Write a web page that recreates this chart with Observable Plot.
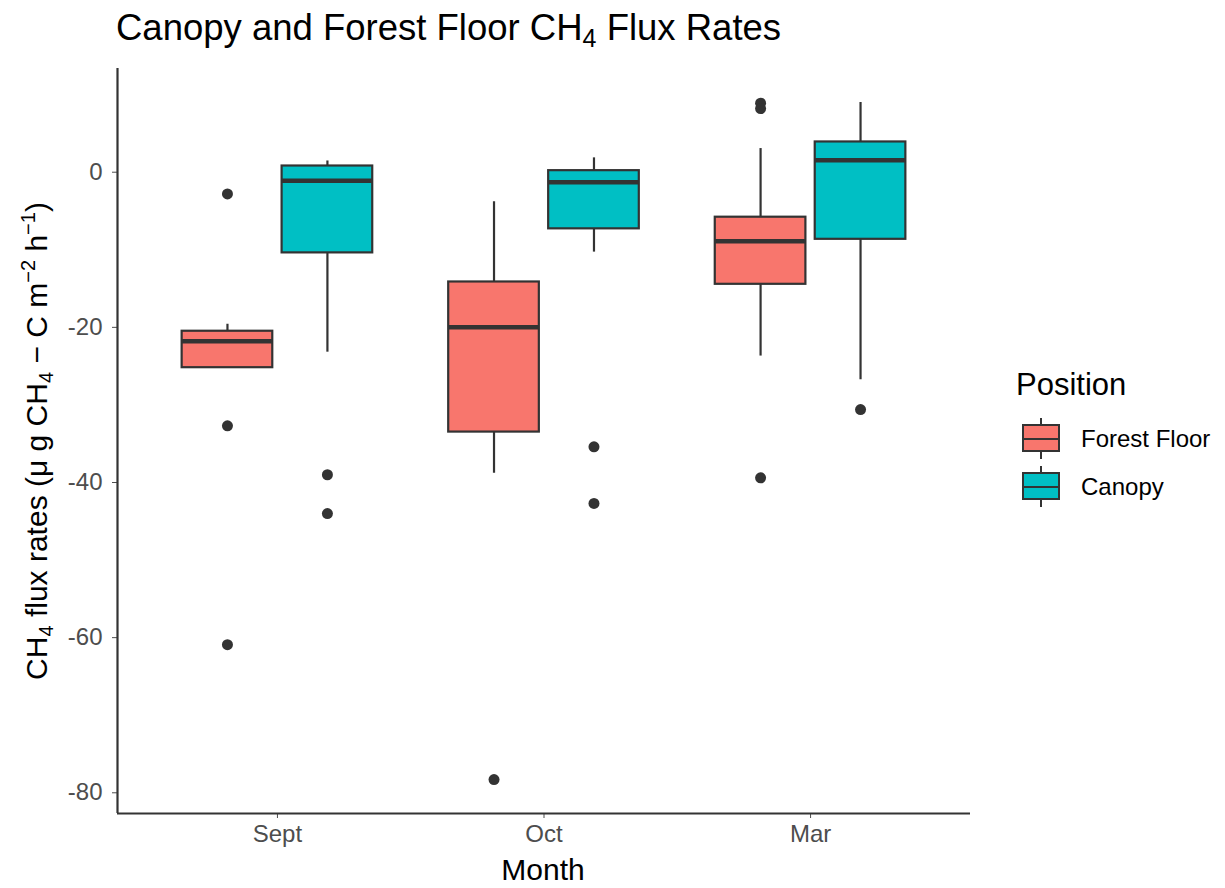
<!DOCTYPE html>
<html><head><meta charset="utf-8">
<script src="https://cdn.jsdelivr.net/npm/d3@7"></script>
<script src="https://cdn.jsdelivr.net/npm/@observablehq/plot@0.6"></script>
<style>body{margin:0;background:#fff;} #chart{width:1225px;height:888px;}</style>
</head><body><div id="chart"></div>
<script>
const months = ["Sept", "Oct", "Mar"];
const positions = ["Forest Floor", "Canopy"];
const colors = ["#F8766D", "#00BFC4"];
const yTicks = [-80, -60, -40, -20, 0];

// Forest Floor box statistics (per month: Sept, Oct, Mar)
const ffLower = [-25.2, -38.8, -23.7];
const ffQ1 = [-25.2, -33.5, -14.45];
const ffMedian = [-21.8, -20.0, -8.9];
const ffQ3 = [-20.5, -14.15, -5.8];
const ffUpper = [-19.6, -3.8, 3.05];
const ffOutliers = [[-2.8, -32.7, -60.9], [-78.3], [8.9, 8.2, -39.4]];

// Canopy box statistics (per month: Sept, Oct, Mar)
const caLower = [-23.2, -10.3, -26.75];
const caQ1 = [-10.4, -7.3, -8.65];
const caMedian = [-1.1, -1.3, 1.55];
const caQ3 = [0.8, 0.2, 3.9];
const caUpper = [1.45, 1.85, 9.0];
const caOutliers = [[-39.0, -44.0], [-35.4, -42.7], [-30.6]];

const xDomain = [0.4, 3.6];
const yDomain = [-82.67, 13.37];
const dodge = 0.1875, half = 0.17;

const stats = [
  {pos: "Forest Floor", lower: ffLower, q1: ffQ1, median: ffMedian, q3: ffQ3, upper: ffUpper, out: ffOutliers},
  {pos: "Canopy", lower: caLower, q1: caQ1, median: caMedian, q3: caQ3, upper: caUpper, out: caOutliers}
];
const boxes = [], outliers = [];
stats.forEach((s, pi) => {
  months.forEach((m, mi) => {
    const xc = mi + 1 + (pi === 0 ? -dodge : dodge);
    boxes.push({month: m, position: s.pos, xc, xl: xc - half, xr: xc + half,
      lower: s.lower[mi], q1: s.q1[mi], median: s.median[mi], q3: s.q3[mi], upper: s.upper[mi]});
    s.out[mi].forEach(v => outliers.push({month: m, position: s.pos, xc, v}));
  });
});

const font = "'Liberation Sans', Arial, Helvetica, sans-serif";
const ink = "#333333";

const svg = Plot.plot({
  width: 1225, height: 888,
  marginLeft: 117, marginRight: 255, marginTop: 68, marginBottom: 75,
  style: {fontFamily: font, fontSize: "24px", color: "#4d4d4d", background: "#fff"},
  x: {domain: xDomain, ticks: [1, 2, 3], tickFormat: d => months[d - 1], tickSize: 5, tickPadding: 6, label: null},
  y: {domain: yDomain, ticks: yTicks, tickFormat: d => String(d), tickSize: 5, tickPadding: 10, label: null},
  color: {domain: positions, range: colors},
  marks: [
    Plot.ruleX(boxes, {x: "xc", y1: "lower", y2: "upper", stroke: ink, strokeWidth: 2.2}),
    Plot.rectY(boxes, {x1: "xl", x2: "xr", y1: "q1", y2: "q3", fill: "position", stroke: ink, strokeWidth: 2.2}),
    Plot.ruleY(boxes, {x1: "xl", x2: "xr", y: "median", stroke: ink, strokeWidth: 4.5}),
    Plot.dot(outliers, {x: "xc", y: "v", r: 5.5, fill: ink, stroke: "none"}),
    Plot.ruleX([xDomain[0]], {stroke: ink, strokeWidth: 2.2}),
    Plot.ruleY([yDomain[0]], {stroke: ink, strokeWidth: 2.2})
  ]
});
document.getElementById("chart").appendChild(svg);

const s = d3.select(svg);
// Title
const t = s.append("text").attr("x", 116).attr("y", 40).attr("font-family", font)
  .attr("text-anchor", "start").attr("font-size", 36.5).attr("fill", "#000");
t.append("tspan").text("Canopy and Forest Floor CH");
t.append("tspan").attr("font-size", 25).attr("dy", 7).text("4");
t.append("tspan").attr("dy", -7).text(" Flux Rates");

// X axis title
s.append("text").attr("x", 543).attr("y", 880).attr("text-anchor", "middle")
  .attr("font-family", font).attr("font-size", 30).attr("fill", "#000").text("Month");

// Y axis title
const yl = s.append("text").attr("transform", "translate(47,441) rotate(-90)")
  .attr("text-anchor", "middle").attr("font-family", font).attr("font-size", 30).attr("fill", "#000");
yl.append("tspan").text("CH");
yl.append("tspan").attr("font-size", 20).attr("dy", 6).text("4");
yl.append("tspan").attr("dy", -6).text(" flux rates (μ g CH");
yl.append("tspan").attr("font-size", 20).attr("dy", 6).text("4");
yl.append("tspan").attr("dy", -6).text(" − C m");
yl.append("tspan").attr("font-size", 20).attr("dy", -12).text("−2");
yl.append("tspan").attr("dy", 12).text(" h");
yl.append("tspan").attr("font-size", 20).attr("dy", -12).text("−1");
yl.append("tspan").attr("dy", 12).text(")");

// Legend
const color = Plot.scale({color: {domain: positions, range: colors}});
s.append("text").attr("x", 1016).attr("y", 395).attr("font-family", font).attr("text-anchor", "start")
  .attr("font-size", 31).attr("fill", "#000").text("Position");
positions.forEach((p, i) => {
  const cy = 439 + i * 48;
  const g = s.append("g");
  g.append("line").attr("x1", 1041).attr("x2", 1041).attr("y1", cy - 21).attr("y2", cy + 20)
    .attr("stroke", ink).attr("stroke-width", 2);
  g.append("rect").attr("x", 1023).attr("y", cy - 14).attr("width", 36).attr("height", 26)
    .attr("fill", color.apply(p)).attr("stroke", ink).attr("stroke-width", 2);
  g.append("line").attr("x1", 1023).attr("x2", 1059).attr("y1", cy).attr("y2", cy)
    .attr("stroke", ink).attr("stroke-width", 2);
  s.append("text").attr("x", 1081).attr("y", cy + 8).attr("font-family", font).attr("text-anchor", "start")
    .attr("font-size", 24).attr("fill", "#000").text(p);
});
</script>
</body></html>
